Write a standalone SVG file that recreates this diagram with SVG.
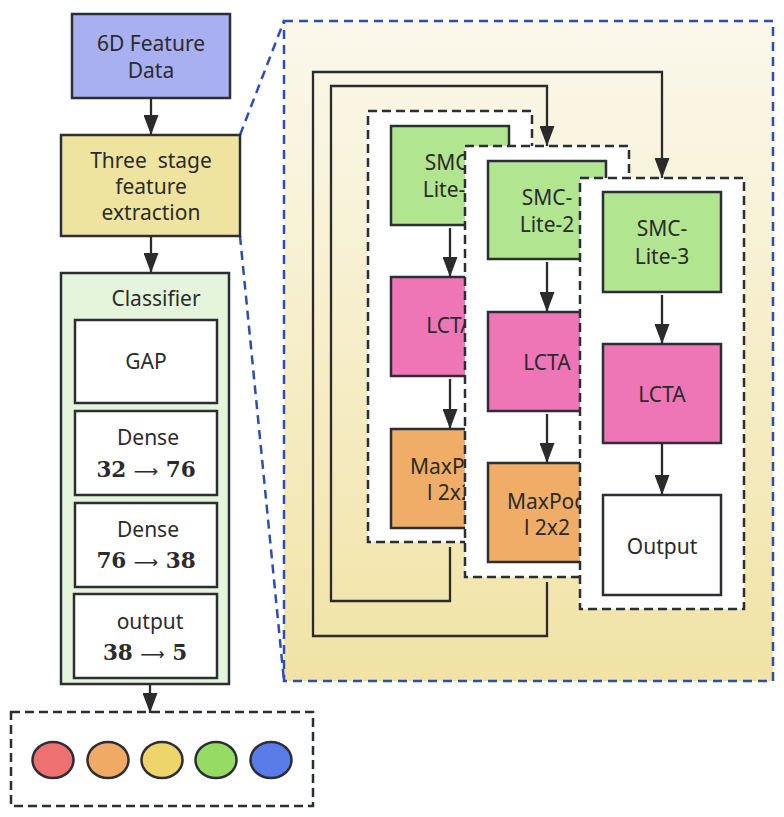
<svg xmlns="http://www.w3.org/2000/svg" width="784" height="817" viewBox="0 0 784 817">
<defs>
<linearGradient id="bg" x1="0" y1="0" x2="0" y2="1">
<stop offset="0" stop-color="#FBF8EC"/>
<stop offset="1" stop-color="#F1E3A5"/>
</linearGradient>
<marker id="ah" markerWidth="20" markerHeight="15" refX="20" refY="7.5" orient="auto" markerUnits="userSpaceOnUse" viewBox="0 0 20 15">
<path d="M0,0 L20,7.5 L0,15 z" fill="#2b2b2b"/>
</marker>
<style>
.box{stroke:#2b2f33;stroke-width:2.5}
.t{font-family:"Noto Sans","Open Sans",sans-serif;font-size:21px;fill:#2b2b2b;text-anchor:middle}
.m{font-family:"DejaVu Serif","Liberation Serif",serif;font-size:21.5px;font-weight:bold;fill:#2b2b2b;text-anchor:middle}
.arr{font-family:"DejaVu Sans",sans-serif;font-weight:normal;font-size:17px}
.dash{fill:#ffffff;stroke:#2b2f33;stroke-width:2.5;stroke-dasharray:9 5}
.blue{fill:none;stroke:#2E4DB0;stroke-width:2.5;stroke-dasharray:9 6}
.region{fill:url(#bg);stroke:#2E4DB0;stroke-width:2.5;stroke-dasharray:9 6}
.ca{fill:none;stroke:#2b2b2b;stroke-width:2.3;marker-end:url(#ah)}
.g{fill:#B1E58F}
.p{fill:#EE76B6}
.o{fill:#F0AD67}
.w{fill:#ffffff}
</style>
</defs>

<g id="zoom-region">
<rect x="284" y="21" width="489" height="660" class="region"/>
<line x1="240" y1="135" x2="284" y2="21" class="blue"/>
<line x1="240" y1="236" x2="284" y2="681" class="blue"/>
</g>

<g id="feature-data">
<rect x="72" y="14" width="158" height="84" fill="#A8B0F2" class="box"/>
<text class="t" x="151" y="51">6D Feature</text>
<text class="t" x="151" y="78">Data</text>
</g>

<g id="three-stage">
<rect x="61" y="135" width="179" height="101" fill="#EFE3A0" class="box"/>
<text class="t" x="151" y="168" style="white-space:pre">Three  stage</text>
<text class="t" x="151" y="194">feature</text>
<text class="t" x="151" y="220">extraction</text>
</g>

<g id="classifier">
<rect x="61" y="273" width="168" height="411" fill="#E5F5DC" class="box"/>
<text class="t" x="156" y="306">Classifier</text>
<g id="gap">
<rect x="75" y="320" width="142" height="83" class="box w"/>
<text class="t" x="146" y="369">GAP</text>
</g>
<g id="dense1">
<rect x="75" y="411" width="142" height="84" class="box w"/>
<text class="t" x="148" y="445">Dense</text>
<text class="m" x="146" y="477">32 <tspan class="arr">⟶</tspan> 76</text>
</g>
<g id="dense2">
<rect x="75" y="503" width="142" height="84" class="box w"/>
<text class="t" x="148" y="537">Dense</text>
<text class="m" x="146" y="568">76 <tspan class="arr">⟶</tspan> 38</text>
</g>
<g id="output-layer">
<rect x="74" y="594" width="143" height="84" class="box w"/>
<text class="t" x="150" y="629">output</text>
<text class="m" x="145" y="660">38 <tspan class="arr">⟶</tspan> 5</text>
</g>
</g>

<g id="classes">
<rect x="11" y="712" width="302" height="94" class="dash"/>
<ellipse cx="53" cy="760" rx="20.5" ry="18" fill="#EE7070" class="box"/>
<ellipse cx="108" cy="760" rx="20.5" ry="18" fill="#F0AA66" class="box"/>
<ellipse cx="162" cy="760" rx="20.5" ry="18" fill="#EDD56C" class="box"/>
<ellipse cx="216" cy="760" rx="20.5" ry="18" fill="#95DC64" class="box"/>
<ellipse cx="271" cy="760" rx="20.5" ry="18" fill="#5A7CE8" class="box"/>
</g>

<g id="stage1">
<rect x="368" y="111" width="164" height="431" class="dash"/>
<g id="smc1">
<rect x="391" y="126" width="118" height="99" class="box g"/>
<text class="t" x="450" y="170">SMC-</text>
<text class="t" x="450" y="197">Lite-1</text>
</g>
<g id="lcta1">
<rect x="391" y="277" width="118" height="99" class="box p"/>
<text class="t" x="450" y="333">LCTA</text>
</g>
<g id="pool1">
<rect x="391" y="429" width="118" height="99" class="box o"/>
<text class="t" x="450" y="474">MaxPoo</text>
<text class="t" x="450" y="500">l 2x2</text>
</g>
</g>

<g id="stage2">
<rect x="465" y="146" width="164" height="431" class="dash"/>
<g id="smc2">
<rect x="488" y="161" width="118" height="98" class="box g"/>
<text class="t" x="547" y="205">SMC-</text>
<text class="t" x="547" y="232">Lite-2</text>
</g>
<g id="lcta2">
<rect x="488" y="312" width="118" height="99" class="box p"/>
<text class="t" x="547" y="370">LCTA</text>
</g>
<g id="pool2">
<rect x="488" y="463" width="118" height="99" class="box o"/>
<text class="t" x="547" y="509">MaxPoo</text>
<text class="t" x="547" y="535">l 2x2</text>
</g>
</g>

<g id="stage3">
<rect x="580" y="178" width="164" height="431" class="dash"/>
<g id="smc3">
<rect x="603" y="192" width="118" height="100" class="box g"/>
<text class="t" x="662" y="236">SMC-</text>
<text class="t" x="662" y="264">Lite-3</text>
</g>
<g id="lcta3">
<rect x="603" y="344" width="118" height="99" class="box p"/>
<text class="t" x="662" y="402">LCTA</text>
</g>
<g id="out3">
<rect x="603" y="495" width="118" height="100" class="box w"/>
<text class="t" x="662" y="554">Output</text>
</g>
</g>

<g id="connectors">
<line x1="151" y1="98" x2="151" y2="135" class="ca"/>
<line x1="151" y1="236" x2="151" y2="273" class="ca"/>
<line x1="150" y1="684" x2="150" y2="713" class="ca"/>
<line x1="450" y1="228" x2="450" y2="277" class="ca"/>
<line x1="450" y1="379" x2="450" y2="429" class="ca"/>
<line x1="547" y1="262" x2="547" y2="312" class="ca"/>
<line x1="547" y1="414" x2="547" y2="463" class="ca"/>
<line x1="662" y1="295" x2="662" y2="344" class="ca"/>
<line x1="662" y1="443" x2="662" y2="495" class="ca"/>
<polyline points="450,547 450,601 331,601 331,86 547,86 547,146" class="ca"/>
<polyline points="547,582 547,636 313,636 313,72 662,72 662,178" class="ca"/>
</g>
</svg>
